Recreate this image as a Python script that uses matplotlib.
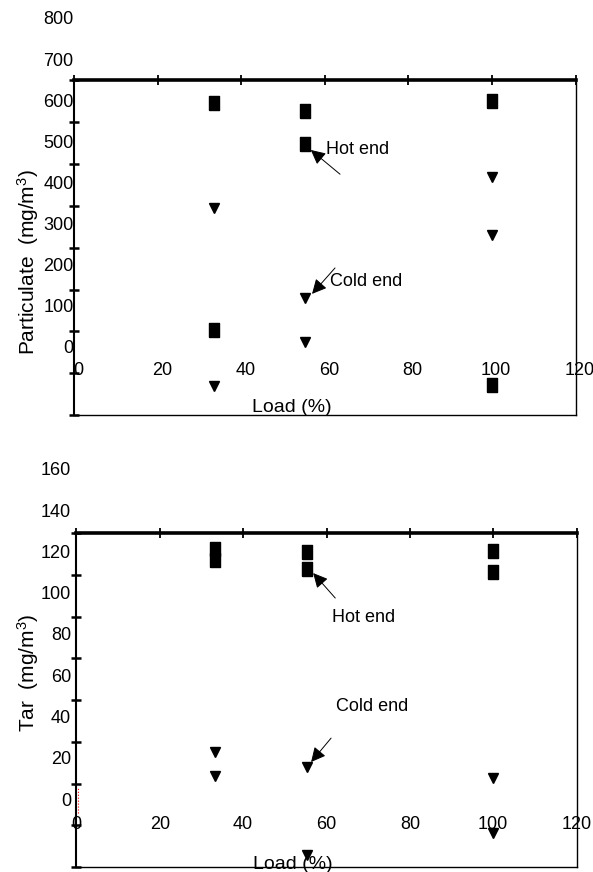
import numpy as np
import matplotlib
matplotlib.use('Agg')
import matplotlib.pyplot as plt
import matplotlib.transforms as mtransforms

plt.rcParams['mathtext.default'] = 'regular'
narrow = ['Liberation Sans', 'DejaVu Sans']
wide = ['Liberation Sans', 'DejaVu Sans']

# Load (%) at which the samples were taken
loads = [33.3, 55.3, 100]

# Particulate (mg/m3) - read against the printed tick labels
part_sq_x = [loads[0], loads[1], loads[1], loads[2], loads[0], loads[2]]
part_sq = [598, 579, 498, 603, 46, -88]
part_tri_x = [loads[0], loads[1], loads[1], loads[2], loads[2], loads[0]]
part_tri = [343, 124, 17, 418, 277, -90]

# Tar (mg/m3)
tar_sq_x = [loads[0], loads[0], loads[1], loads[1], loads[2], loads[2]]
tar_sq = [122, 116.6, 120.5, 112.5, 121, 111]
tar_tri_x = [loads[0], loads[0], loads[1], loads[2], loads[2], loads[1]]
tar_tri = [23.8, 12.1, 16.5, 11.2, -15.5, -26.2]

x_labels = [0, 20, 40, 60, 80, 100, 120]
part_labels = [0, 100, 200, 300, 400, 500, 600, 700, 800]
tar_labels = [0, 20, 40, 60, 80, 100, 120, 140, 160]

# tall rectangle marker
rect = [(-0.75, -1), (0.75, -1), (0.75, 1), (-0.75, 1), (-0.75, -1)]

fig = plt.figure(figsize=(5.93, 8.72), dpi=100)
ax1 = fig.add_axes([0.1256, 0.5241, 0.8449, 0.3836])
ax2 = fig.add_axes([0.1290, 0.0057, 0.8432, 0.3830])


def frame(ax, ylim):
    ax.set_xlim(0, 120)
    ax.set_ylim(*ylim)
    ax.spines['top'].set_linewidth(2.6)
    ax.spines['left'].set_linewidth(1.5)
    ax.spines['right'].set_linewidth(1.0)
    ax.spines['bottom'].set_linewidth(1.0)
    ax.xaxis.set_ticks_position('top')
    ax.set_xticks(x_labels)
    ax.set_yticks(np.linspace(ylim[0], ylim[1], 9))
    ax.tick_params(axis='x', direction='inout', length=7, width=1.3,
                   labeltop=False, labelbottom=False)
    ax.tick_params(axis='y', direction='inout', length=7, width=1.8,
                   labelleft=False)


def labels(ax, ylabs, yl_x, xl_dx, xl_y, load_xy, ylabel, ylab_y):
    tr = mtransforms.blended_transform_factory(ax.transAxes, ax.transData)
    for v in ylabs:
        ax.text(yl_x, v, str(v), transform=tr, ha='right', va='center',
                fontsize=13, family=narrow, clip_on=False)
    for v in x_labels:
        ax.text(v + xl_dx, xl_y, str(v), ha='center', va='center',
                fontsize=13, family=narrow, clip_on=False)
    ax.text(load_xy[0], load_xy[1], 'Load (%)', ha='center', va='center',
            fontsize=14, family=narrow, clip_on=False)
    fig.text(28 / 593, 1 - ylab_y / 872, ylabel, rotation=90, ha='center',
             va='center', fontsize=15, family=wide)


def note(ax, txt, txy, tail, tip):
    ax.text(txy[0], txy[1], txt, ha='center', va='center', fontsize=13,
            family=narrow)
    ax.annotate('', xy=tip, xytext=tail,
                arrowprops=dict(arrowstyle='-|>', color='black', lw=0.7,
                                mutation_scale=22, shrinkA=0, shrinkB=0))


# ---- Particulate ----
frame(ax1, (-160.5, 652.9))
ax1.plot(part_sq_x, part_sq, linestyle='none', marker=rect, markersize=9.4,
         color='black', clip_on=False)
ax1.plot(part_tri_x, part_tri, linestyle='none', marker='v', markersize=6.5,
         color='black', clip_on=False)
labels(ax1, part_labels, -0.002, 1.0, -53.5, (52, -143.5),
       'Particulate  (mg/m$^{3}$)', 262)
note(ax1, 'Hot end', (67.9, 484), (63.6, 425), (56.6, 484))
note(ax1, 'Cold end', (69.8, 163), (62.4, 197), (56.9, 134))

# ---- Tar ----
frame(ax2, (-32.0, 129.9))
ax2.plot(tar_sq_x, tar_sq, linestyle='none', marker=rect, markersize=9.4,
         color='black', clip_on=False)
ax2.plot(tar_tri_x, tar_tri, linestyle='none', marker='v', markersize=6.5,
         color='black', clip_on=False)
ax2.plot([0.4, 0.4], [-5.8, 6.8], color='red', lw=0.8, linestyle=':',
         clip_on=False)
labels(ax2, tar_labels, -0.011, 0.0, -11.2, (52, -31.0),
       'Tar  (mg/m$^{3}$)', 673)
note(ax2, 'Hot end', (68.8, 89.2), (62.1, 98.4), (56.8, 110.5))
note(ax2, 'Cold end', (71.0, 45.6), (61.1, 30.5), (56.3, 18.9))

fig.savefig('out.png', dpi=100)
